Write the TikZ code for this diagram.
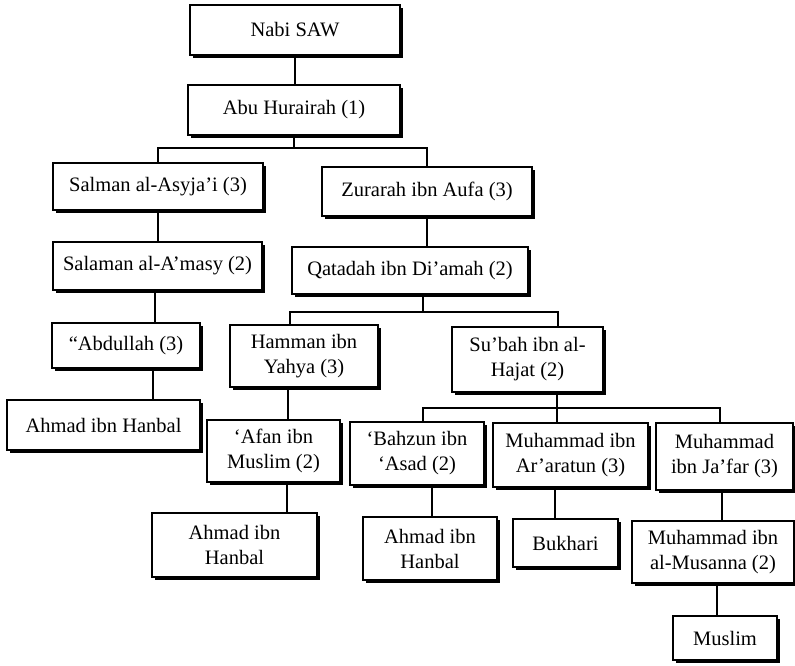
\documentclass[tikz,border=0pt]{standalone}
\usepackage{fontspec}
\setmainfont{Liberation Serif}
\usetikzlibrary{shadows}

\tikzset{
  rawi/.style={draw, line width=1.5pt, fill=white, align=center, inner sep=0pt,
    drop shadow={shadow xshift=2.5pt, shadow yshift=-2.5pt, fill=black, opacity=1},
    font=\fontsize{20.5}{25}\selectfont},
  link/.style={line width=1.6pt}
}

\begin{document}
\begin{tikzpicture}[x=1pt,y=-1pt]
	\useasboundingbox (0,0) rectangle (795,665);

	% Top of the chain
	\node[rawi, minimum width=210pt, minimum height=50pt] (nabi) at (295,30) {Nabi SAW};
	\node[rawi, minimum width=212pt, minimum height=50pt] (abu) at (294,110) {Abu Hurairah (1)};

	% Second generation
	\node[rawi, minimum width=210pt, minimum height=47pt] (salman) at (158,186.5) {Salman al-Asyja’i (3)};
	\node[rawi, minimum width=210pt, minimum height=49pt] (zurarah) at (427,191.5) {Zurarah ibn Aufa (3)};
	\node[rawi, minimum width=209pt, minimum height=48pt] (salaman) at (157.5,266) {Salaman al-A’masy (2)};
	\node[rawi, minimum width=236pt, minimum height=47pt] (qatadah) at (410,270.5) {Qatadah ibn Di’amah (2)};

	% Third generation
	\node[rawi, minimum width=148pt, minimum height=45pt] (abdullah) at (126,345.5) {“Abdullah (3)};
	\node[rawi, minimum width=148pt, minimum height=62pt] (hamman) at (304,356) {Hamman ibn\\Yahya (3)};
	\node[rawi, minimum width=151pt, minimum height=65pt] (subah) at (527.5,359.5) {Su’bah ibn al-\\Hajat (2)};

	% Fourth generation
	\node[rawi, minimum width=193pt, minimum height=50pt] (ahmadA) at (103.5,425) {Ahmad ibn Hanbal};
	\node[rawi, minimum width=133pt, minimum height=62pt] (afan) at (273.5,451) {‘Afan ibn\\Muslim (2)};
	\node[rawi, minimum width=134pt, minimum height=63pt] (bahzun) at (417,453.5) {‘Bahzun ibn\\‘Asad (2)};
	\node[rawi, minimum width=155pt, minimum height=64pt] (araratun) at (570.5,455) {Muhammad ibn\\Ar’aratun (3)};
	\node[rawi, minimum width=137pt, minimum height=67pt] (jafar) at (724.5,456.5) {Muhammad\\ibn Ja’far (3)};

	% Collectors
	\node[rawi, minimum width=165pt, minimum height=64pt] (ahmadB) at (234.5,545) {Ahmad ibn\\Hanbal};
	\node[rawi, minimum width=134pt, minimum height=63pt] (ahmadC) at (430,548.5) {Ahmad ibn\\Hanbal};
	\node[rawi, minimum width=105pt, minimum height=48pt] (bukhari) at (565.5,543) {Bukhari};
	\node[rawi, minimum width=162pt, minimum height=62pt] (musanna) at (713,552) {Muhammad ibn\\al-Musanna (2)};
	\node[rawi, minimum width=104pt, minimum height=44pt] (muslim) at (725,638) {Muslim};

	% Branch points
	\coordinate (j1) at (293,148);
	\coordinate (j2) at (423,312);
	\coordinate (j3) at (557,408);

	% Connectors
	\draw[link] (nabi.south) -- (nabi.south |- abu.north);
	\draw[link] (abu.south) -- (abu.south |- j1);
	\draw[link] (salman.north) |- (j1) -| (zurarah.north);
	\draw[link] (salman.south) -- (salman.south |- salaman.north);
	\draw[link] (zurarah.south) -- (zurarah.south |- qatadah.north);
	\draw[link] ([xshift=-2.5pt]salaman.south) -- ([xshift=-2.5pt]salaman.south |- abdullah.north);
	\draw[link] ([xshift=27pt]abdullah.south) -- ([xshift=27pt]abdullah.south |- ahmadA.north);
	\draw[link] ([xshift=13pt]qatadah.south) -- ([xshift=13pt]qatadah.south |- j2);
	\draw[link] ([xshift=-14pt]hamman.north) |- (j2) -| ([xshift=30.5pt]subah.north);
	\draw[link] ([xshift=-16pt]hamman.south) -- ([xshift=-16pt]hamman.south |- afan.north);
	\draw[link] ([xshift=13.5pt]afan.south) -- ([xshift=13.5pt]afan.south |- ahmadB.north);
	\draw[link] ([xshift=29.5pt]subah.south) -- ([xshift=29.5pt]subah.south |- araratun.north);
	\draw[link] ([xshift=6pt]bahzun.north) |- (j3) -| ([xshift=-4.5pt]jafar.north);
	\draw[link] ([xshift=15pt]bahzun.south) -- ([xshift=15pt]bahzun.south |- ahmadC.north);
	\draw[link] ([xshift=-15.5pt]araratun.south) -- ([xshift=-15.5pt]araratun.south |- bukhari.north);
	\draw[link] ([xshift=-2.5pt]jafar.south) -- ([xshift=-2.5pt]jafar.south |- musanna.north);
	\draw[link] ([xshift=4pt]musanna.south) -- ([xshift=4pt]musanna.south |- muslim.north);
\end{tikzpicture}
\end{document}
